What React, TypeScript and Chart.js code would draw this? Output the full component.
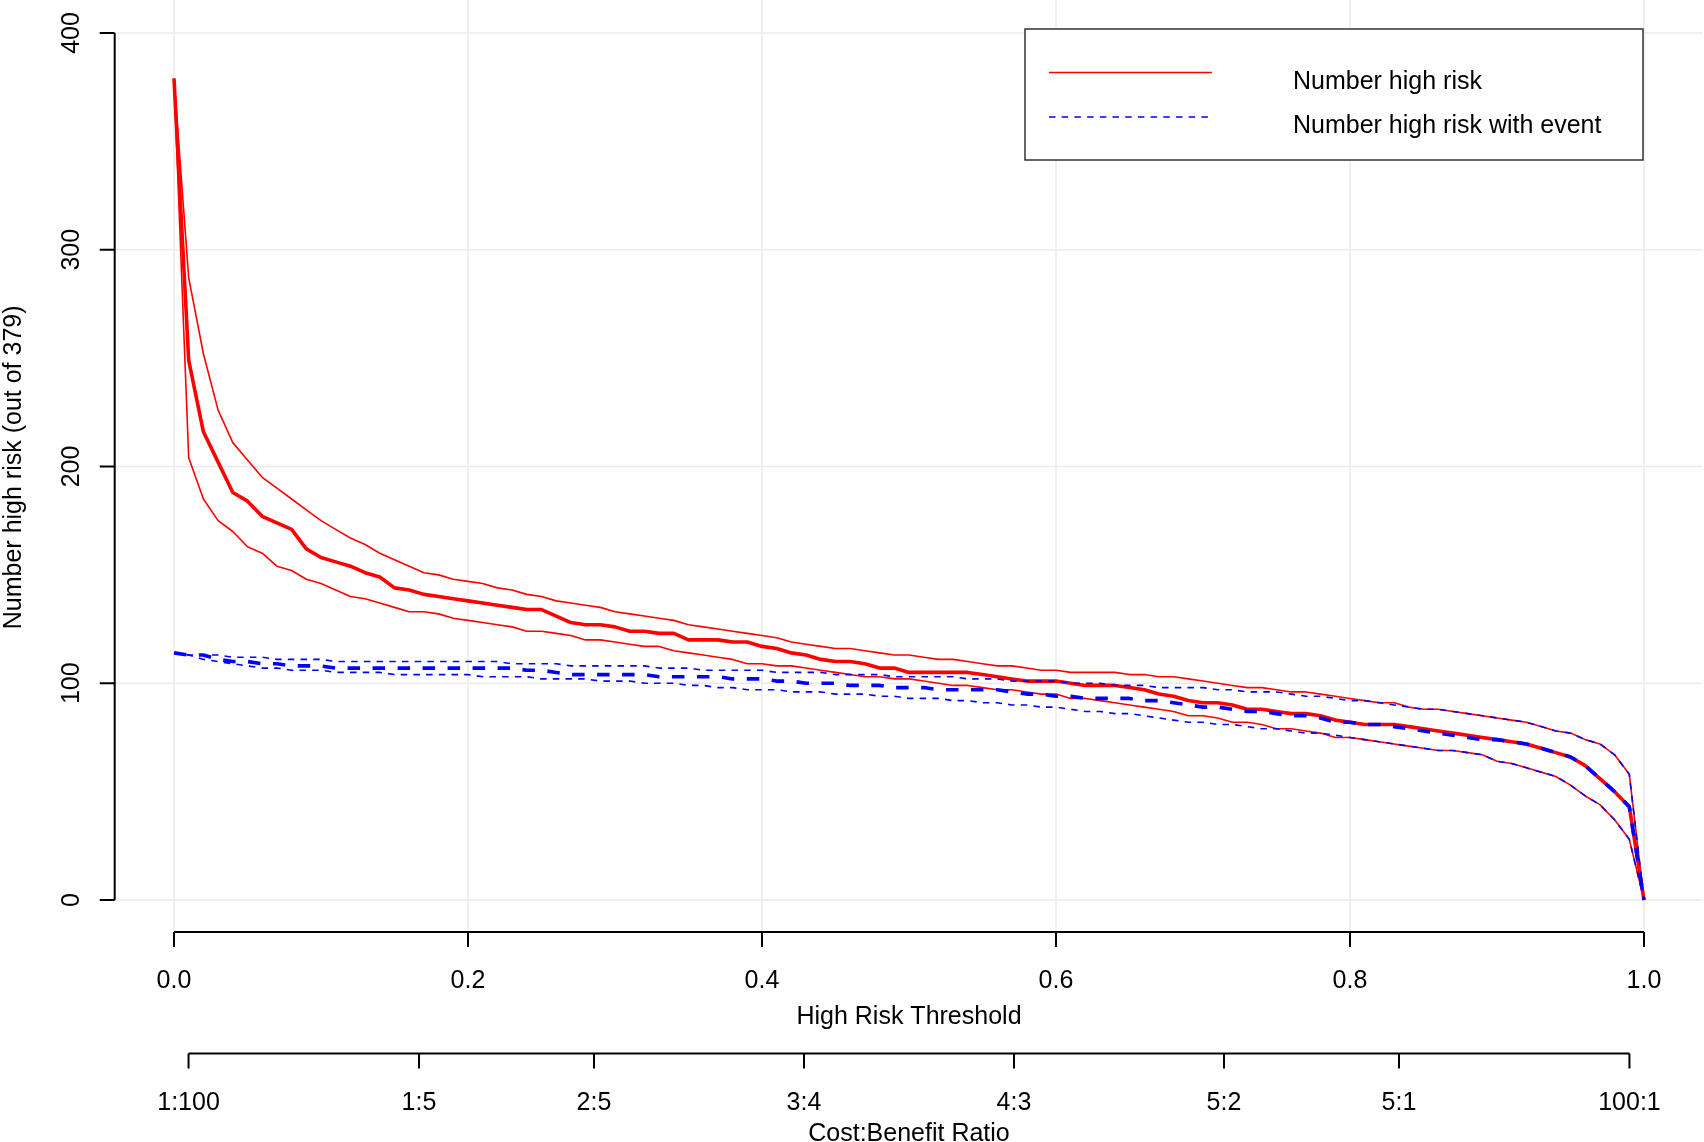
import React, { useEffect, useRef } from 'react';
import { Chart, registerables } from 'chart.js';

Chart.register(...registerables);

// ---------- data ----------
const THRESHOLDS = [
  0, 0.01, 0.02, 0.03, 0.04, 0.05, 0.06, 0.07, 0.08, 0.09,
  0.1, 0.11, 0.12, 0.13, 0.14, 0.15, 0.16, 0.17, 0.18, 0.19,
  0.2, 0.21, 0.22, 0.23, 0.24, 0.25, 0.26, 0.27, 0.28, 0.29,
  0.3, 0.31, 0.32, 0.33, 0.34, 0.35, 0.36, 0.37, 0.38, 0.39,
  0.4, 0.41, 0.42, 0.43, 0.44, 0.45, 0.46, 0.47, 0.48, 0.49,
  0.5, 0.51, 0.52, 0.53, 0.54, 0.55, 0.56, 0.57, 0.58, 0.59,
  0.6, 0.61, 0.62, 0.63, 0.64, 0.65, 0.66, 0.67, 0.68, 0.69,
  0.7, 0.71, 0.72, 0.73, 0.74, 0.75, 0.76, 0.77, 0.78, 0.79,
  0.8, 0.81, 0.82, 0.83, 0.84, 0.85, 0.86, 0.87, 0.88, 0.89,
  0.9, 0.91, 0.92, 0.93, 0.94, 0.95, 0.96, 0.97, 0.98, 0.99, 1,
];

const HIGH_RISK = [
  379, 249, 216, 202, 188, 184, 177, 174, 171, 162,
  158, 156, 154, 151, 149, 144, 143, 141, 140, 139,
  138, 137, 136, 135, 134, 134, 131, 128, 127, 127,
  126, 124, 124, 123, 123, 120, 120, 120, 119, 119,
  117, 116, 114, 113, 111, 110, 110, 109, 107, 107,
  105, 105, 105, 105, 105, 104, 103, 102, 101, 101,
  101, 100, 99, 99, 99, 98, 97, 95, 94, 92,
  91, 91, 90, 88, 88, 87, 86, 86, 85, 83,
  82, 81, 81, 81, 80, 79, 78, 77, 76, 75,
  74, 73, 72, 70, 68, 66, 62, 56, 50, 43, 0,
];

const HIGH_RISK_UPPER = [
  379, 287, 252, 226, 211, 203, 195, 190, 185, 180,
  175, 171, 167, 164, 160, 157, 154, 151, 150, 148,
  147, 146, 144, 143, 141, 140, 138, 137, 136, 135,
  133, 132, 131, 130, 129, 127, 126, 125, 124, 123,
  122, 121, 119, 118, 117, 116, 116, 115, 114, 113,
  113, 112, 111, 111, 110, 109, 108, 108, 107, 106,
  106, 105, 105, 105, 105, 104, 104, 103, 103, 102,
  101, 100, 99, 98, 98, 97, 96, 96, 95, 94,
  93, 92, 91, 91, 89, 88, 88, 87, 86, 85,
  84, 83, 82, 80, 78, 77, 74, 72, 67, 58, 0,
];

const HIGH_RISK_LOWER = [
  379, 204, 185, 175, 170, 163, 160, 154, 152, 148,
  146, 143, 140, 139, 137, 135, 133, 133, 132, 130,
  129, 128, 127, 126, 124, 124, 123, 122, 120, 120,
  119, 118, 117, 117, 115, 114, 113, 112, 111, 109,
  109, 108, 108, 107, 106, 105, 104, 103, 103, 102,
  102, 101, 100, 99, 99, 98, 97, 97, 96, 95,
  95, 93, 93, 92, 91, 90, 89, 88, 87, 85,
  85, 84, 82, 82, 81, 79, 79, 78, 77, 75,
  75, 74, 73, 72, 71, 70, 69, 69, 68, 67,
  64, 63, 61, 59, 57, 53, 48, 44, 37, 28, 0,
];

const WITH_EVENT = [
  114, 113, 113, 111, 110, 110, 109, 109, 108, 108,
  108, 107, 107, 107, 107, 107, 107, 107, 107, 107,
  107, 107, 107, 107, 106, 106, 105, 104, 104, 104,
  104, 104, 104, 103, 103, 103, 103, 103, 102, 102,
  102, 101, 101, 100, 100, 100, 99, 99, 99, 98,
  98, 98, 97, 97, 97, 97, 97, 96, 95, 95,
  94, 94, 93, 93, 93, 93, 92, 92, 91, 90,
  89, 89, 88, 87, 87, 86, 85, 85, 84, 82,
  82, 81, 81, 80, 79, 78, 77, 76, 75, 74,
  74, 73, 72, 70, 68, 66, 62, 56, 50, 43, 0,
];

const WITH_EVENT_UPPER = [
  114, 113, 113, 113, 112, 112, 112, 111, 111, 111,
  111, 110, 110, 110, 110, 110, 110, 110, 110, 110,
  110, 110, 110, 109, 109, 109, 109, 108, 108, 108,
  108, 108, 108, 107, 107, 107, 106, 106, 106, 106,
  106, 105, 105, 105, 105, 104, 104, 104, 104, 103,
  103, 103, 103, 103, 102, 102, 102, 101, 101, 101,
  101, 100, 100, 100, 99, 99, 99, 98, 98, 98,
  98, 97, 97, 96, 96, 96, 95, 94, 94, 93,
  92, 92, 91, 90, 89, 88, 88, 87, 86, 85,
  84, 83, 82, 80, 78, 77, 74, 72, 67, 58, 0,
];

const WITH_EVENT_LOWER = [
  114, 113, 111, 110, 109, 108, 107, 107, 106, 106,
  106, 105, 105, 105, 105, 104, 104, 104, 104, 104,
  104, 103, 103, 103, 103, 102, 102, 102, 102, 101,
  101, 101, 100, 100, 100, 99, 99, 98, 98, 97,
  97, 97, 96, 96, 96, 95, 95, 95, 94, 94,
  93, 93, 93, 92, 92, 91, 91, 90, 90, 89,
  89, 88, 87, 87, 86, 86, 85, 84, 83, 82,
  82, 81, 81, 80, 79, 79, 78, 77, 77, 76,
  75, 74, 73, 72, 71, 70, 69, 69, 68, 67,
  64, 63, 61, 59, 57, 53, 48, 44, 37, 28, 0,
];

const Y_TICKS = [0, 100, 200, 300, 400];
const Y_TICK_LABELS = ['0', '100', '200', '300', '400'];
const X_TICKS = [0, 0.2, 0.4, 0.6, 0.8, 1.0];
const X_TICK_LABELS = ['0.0', '0.2', '0.4', '0.6', '0.8', '1.0'];
const COST_BENEFIT_LABELS = ['1:100', '1:5', '2:5', '3:4', '4:3', '5:2', '5:1', '100:1'];

const LEGEND_LABELS = ['Number high risk', 'Number high risk with event'];
const X_TITLE = 'High Risk Threshold';
const X2_TITLE = 'Cost:Benefit Ratio';
const Y_TITLE = 'Number high risk (out of 379)';

// ---------- helpers ----------
const FONT = '25px "Liberation Sans", Arial, Helvetica, sans-serif';
const RED = '#FF0000';
const BLUE = '#0000FF';

function cbPosition(label: string): number {
  const [c, b] = label.split(':').map(Number);
  return c / (c + b);
}

function toPoints(values: number[]) {
  return THRESHOLDS.map((t, i) => ({ x: t, y: values[i] }));
}

const rStylePlugin = {
  id: 'rStyle',
  beforeDatasetsDraw(chart: any) {
    const { ctx, chartArea, scales } = chart;
    const x = scales.x;
    const y = scales.y;
    ctx.save();
    ctx.strokeStyle = '#EBEBEB';
    ctx.lineWidth = 1.5;
    ctx.setLineDash([]);
    for (const t of X_TICKS) {
      const px = x.getPixelForValue(t);
      ctx.beginPath();
      ctx.moveTo(px, chartArea.top);
      ctx.lineTo(px, chartArea.bottom);
      ctx.stroke();
    }
    for (const v of Y_TICKS) {
      const py = y.getPixelForValue(v);
      ctx.beginPath();
      ctx.moveTo(chartArea.left, py);
      ctx.lineTo(chartArea.right, py);
      ctx.stroke();
    }
    ctx.restore();
  },
  afterDraw(chart: any) {
    const { ctx, chartArea, scales } = chart;
    const x = scales.x;
    const y = scales.y;
    ctx.save();
    ctx.setLineDash([]);
    ctx.strokeStyle = '#000';
    ctx.fillStyle = '#000';
    ctx.lineWidth = 2;
    ctx.font = FONT;

    // y axis
    const axX = chartArea.left - 0.5;
    const y0 = y.getPixelForValue(Y_TICKS[0]);
    const y1 = y.getPixelForValue(Y_TICKS[Y_TICKS.length - 1]);
    ctx.beginPath();
    ctx.moveTo(axX, y0);
    ctx.lineTo(axX, y1);
    for (const v of Y_TICKS) {
      const py = y.getPixelForValue(v);
      ctx.moveTo(axX, py);
      ctx.lineTo(axX - 15, py);
    }
    ctx.stroke();
    Y_TICKS.forEach((v, i) => {
      const py = y.getPixelForValue(v);
      ctx.save();
      ctx.translate(79, py);
      ctx.rotate(-Math.PI / 2);
      ctx.textAlign = 'center';
      ctx.textBaseline = 'alphabetic';
      ctx.fillText(Y_TICK_LABELS[i], 0, 0);
      ctx.restore();
    });
    ctx.save();
    ctx.translate(21, (chartArea.top + chartArea.bottom) / 2);
    ctx.rotate(-Math.PI / 2);
    ctx.textAlign = 'center';
    ctx.textBaseline = 'alphabetic';
    ctx.fillText(Y_TITLE, 0, 0);
    ctx.restore();

    // x axis (threshold)
    const axY = 932;
    const xa = x.getPixelForValue(X_TICKS[0]);
    const xb = x.getPixelForValue(X_TICKS[X_TICKS.length - 1]);
    ctx.beginPath();
    ctx.moveTo(xa, axY);
    ctx.lineTo(xb, axY);
    for (const t of X_TICKS) {
      const px = x.getPixelForValue(t);
      ctx.moveTo(px, axY);
      ctx.lineTo(px, axY + 15);
    }
    ctx.stroke();
    ctx.textAlign = 'center';
    ctx.textBaseline = 'alphabetic';
    X_TICKS.forEach((t, i) => {
      ctx.fillText(X_TICK_LABELS[i], x.getPixelForValue(t), 988);
    });
    const midX = (chartArea.left + chartArea.right) / 2;
    ctx.fillText(X_TITLE, midX, 1024);

    // cost:benefit axis
    const ax2Y = 1053.5;
    const cbPos = COST_BENEFIT_LABELS.map(cbPosition);
    ctx.beginPath();
    ctx.moveTo(x.getPixelForValue(cbPos[0]), ax2Y);
    ctx.lineTo(x.getPixelForValue(cbPos[cbPos.length - 1]), ax2Y);
    for (const p of cbPos) {
      const px = x.getPixelForValue(p);
      ctx.moveTo(px, ax2Y);
      ctx.lineTo(px, ax2Y + 15);
    }
    ctx.stroke();
    COST_BENEFIT_LABELS.forEach((lab, i) => {
      ctx.fillText(lab, x.getPixelForValue(cbPos[i]), 1110);
    });
    ctx.fillText(X2_TITLE, midX, 1141);

    // legend
    const lx = 1025, ly = 29, lw = 618, lh = 131;
    ctx.fillStyle = '#FFFFFF';
    ctx.fillRect(lx, ly, lw, lh);
    ctx.strokeStyle = '#333333';
    ctx.lineWidth = 1.5;
    ctx.strokeRect(lx, ly, lw, lh);

    ctx.strokeStyle = RED;
    ctx.lineWidth = 1.7;
    ctx.beginPath();
    ctx.moveTo(1049, 72.5);
    ctx.lineTo(1212, 72.5);
    ctx.stroke();

    ctx.strokeStyle = BLUE;
    ctx.lineWidth = 1.6;
    ctx.setLineDash([6.5, 6.2]);
    ctx.beginPath();
    ctx.moveTo(1049, 117);
    ctx.lineTo(1210, 117);
    ctx.stroke();
    ctx.setLineDash([]);

    ctx.fillStyle = '#000';
    ctx.textAlign = 'left';
    ctx.fillText(LEGEND_LABELS[0], 1293, 89);
    ctx.fillText(LEGEND_LABELS[1], 1293, 133);

    ctx.restore();
  },
};

export default function App() {
  const canvasRef = useRef<HTMLCanvasElement | null>(null);

  useEffect(() => {
    document.body.style.margin = '0';
    document.body.style.overflow = 'hidden';
    const canvas = canvasRef.current;
    if (!canvas) return;

    const thin = 1.6;
    const thick = 3.6;

    const chart = new Chart(canvas, {
      type: 'line',
      data: {
        datasets: [
          { label: 'With event', data: toPoints(WITH_EVENT), borderColor: BLUE, borderWidth: thick, borderDash: [12.5, 12.5], order: 0 },
          { label: 'With event upper', data: toPoints(WITH_EVENT_UPPER), borderColor: BLUE, borderWidth: thin, borderDash: [6.5, 6.2], order: 0 },
          { label: 'With event lower', data: toPoints(WITH_EVENT_LOWER), borderColor: BLUE, borderWidth: thin, borderDash: [6.5, 6.2], order: 0 },
          { label: 'High risk', data: toPoints(HIGH_RISK), borderColor: RED, borderWidth: thick, order: 1 },
          { label: 'High risk upper', data: toPoints(HIGH_RISK_UPPER), borderColor: RED, borderWidth: thin, order: 1 },
          { label: 'High risk lower', data: toPoints(HIGH_RISK_LOWER), borderColor: RED, borderWidth: thin, order: 1 },
        ],
      },
      options: {
        animation: false,
        responsive: false,
        maintainAspectRatio: false,
        events: [],
        layout: { padding: { left: 115.2, right: 1.2, top: 0, bottom: 207.3 } },
        elements: {
          point: { radius: 0, hoverRadius: 0 },
          line: { tension: 0, fill: false, borderCapStyle: 'butt', borderJoinStyle: 'round' },
        },
        scales: {
          x: { type: 'linear', min: -0.04, max: 1.04, display: false },
          y: { type: 'linear', min: -16, max: 415.2, display: false },
        },
        plugins: {
          legend: { display: false },
          tooltip: { enabled: false },
          title: { display: false },
        },
      },
      plugins: [rStylePlugin],
    } as any);

    return () => {
      chart.destroy();
    };
  }, []);

  return (
    <div style={{ width: 1704, height: 1142, background: '#fff' }}>
      <canvas ref={canvasRef} width={1704} height={1142} style={{ display: 'block', width: 1704, height: 1142 }} />
    </div>
  );
}
